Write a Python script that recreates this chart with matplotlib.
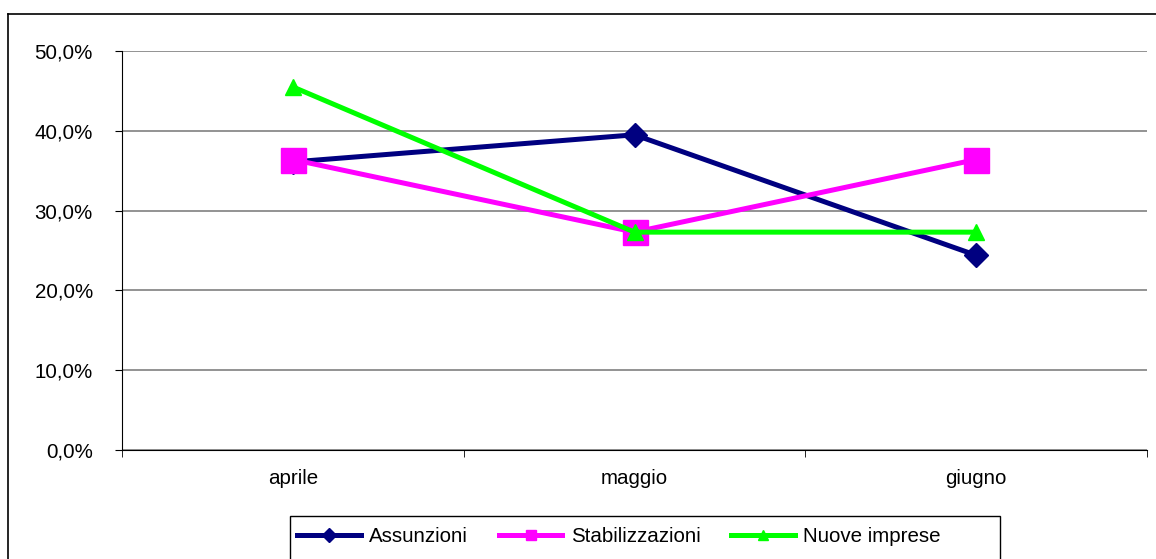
import matplotlib
matplotlib.use("Agg")
import matplotlib.pyplot as plt
from matplotlib.lines import Line2D
from matplotlib.patches import Rectangle
from matplotlib.ticker import FuncFormatter, FixedLocator

plt.rcParams['font.family'] = ['Liberation Sans', 'DejaVu Sans']

categories = ["aprile", "maggio", "giugno"]
assunzioni = [36.1, 39.5, 24.4]
stabilizzazioni = [36.4, 27.3, 36.4]
nuove_imprese = [45.5, 27.3, 27.3]
series_names = ["Assunzioni", "Stabilizzazioni", "Nuove imprese"]
y_ticks = [0, 10, 20, 30, 40, 50]

W, H = 1156, 559
FS = 14.8
LW = 3.6
fig = plt.figure(figsize=(W / 100, H / 100), dpi=100)
fig.patch.set_facecolor("white")

# outer chart frame (left and top edges visible)
fig.add_artist(Line2D([8 / W, 8 / W], [0, 1 - 14 / H], color="black", lw=1.2))
fig.add_artist(Line2D([8 / W, 1], [1 - 14 / H, 1 - 14 / H], color="black", lw=1.2))

ax = fig.add_axes([122 / W, 1 - 450 / H, (1147 - 122) / W, (450 - 51) / H])
x = list(range(len(categories)))

styles = [
    dict(color="#000080", marker="D", ms=12),
    dict(color="#FF00FF", marker="s", ms=18),
    dict(color="#00FF00", marker="^", ms=11),
]
for vals, st in zip([assunzioni, stabilizzazioni, nuove_imprese], styles):
    ax.plot(x, vals, color=st["color"], lw=LW, marker=st["marker"],
            ms=st["ms"], mfc=st["color"], mec=st["color"], zorder=3,
            clip_on=False)

ax.set_xlim(-0.5, len(categories) - 0.5)
ax.set_ylim(0, 50)
ax.set_yticks(y_ticks)
ax.yaxis.set_major_formatter(FuncFormatter(lambda v, p: f"{v:.1f}%".replace(".", ",")))
ax.grid(axis="y", color="#808080", lw=1.2)
ax.set_axisbelow(True)

ax.set_xticks(x)
ax.set_xticklabels(categories)
ax.xaxis.set_minor_locator(FixedLocator([i - 0.5 for i in range(len(categories) + 1)]))
ax.tick_params(axis="x", which="major", length=0, pad=14, labelsize=FS)
ax.tick_params(axis="x", which="minor", length=5, direction="out", color="black")
ax.tick_params(axis="y", length=5, direction="out", pad=16, labelsize=FS)

for s in ["top", "right"]:
    ax.spines[s].set_visible(False)
ax.spines["left"].set_color("black")
ax.spines["bottom"].set_color("black")

# legend frame
fig.add_artist(Rectangle((290 / W, -0.05), (1000 - 290) / W, 1 - 516 / H + 0.05,
                         transform=fig.transFigure, fill=False,
                         edgecolor="black", lw=1.0))
handles = [Line2D([], [], color=st["color"], lw=LW, marker=st["marker"],
                  ms=7, mfc=st["color"], mec=st["color"]) for st in styles]
leg = fig.legend(handles, series_names, ncol=3, loc="center left",
                 bbox_to_anchor=(297 / W, 1 - 537 / H), fontsize=FS,
                 frameon=False, borderpad=0, borderaxespad=0,
                 handlelength=3.1, columnspacing=1.5, handletextpad=0.4)

fig.savefig("out.png", dpi=100)
